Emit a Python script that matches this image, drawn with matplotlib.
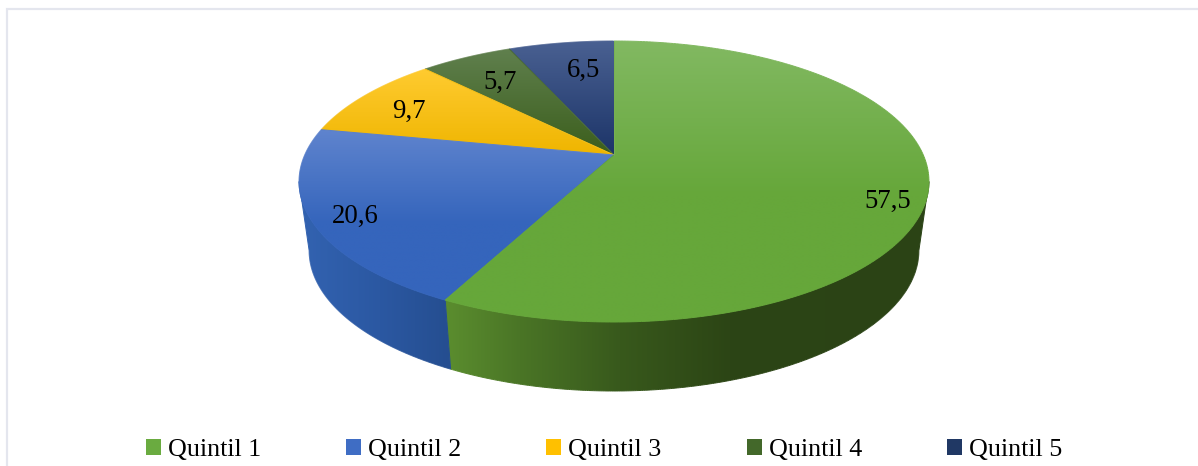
import numpy as np
import matplotlib
matplotlib.use("Agg")
import matplotlib.pyplot as plt
from matplotlib.patches import Patch, Polygon
from matplotlib.collections import LineCollection
from matplotlib.colors import to_rgb

categorias = ["Quintil 1", "Quintil 2", "Quintil 3", "Quintil 4", "Quintil 5"]
valores = [57.5, 20.6, 9.7, 5.7, 6.5]
rotulos = ["57,5", "20,6", "9,7", "5,7", "6,5"]

# cores do topo (inicio e fim do degrade vertical) e da legenda
cor_topo_a = ["#82B962", "#5F84CE", "#FFCB30", "#60804E", "#4A6192"]
cor_topo_b = ["#66A73A", "#3565BC", "#EFB500", "#3B5E1C", "#1C3468"]
cor_legenda = ["#6AAB40", "#3F6DC4", "#FFC000", "#43682A", "#203864"]

# posicao dos rotulos em pixels
rotulo_x = [888, 355, 409, 500, 584]
rotulo_y = [201, 216, 111, 82, 70]

# degrade da lateral, por x em pixels
parede_x = [[450, 520, 620, 730, 920], [305, 380, 450]]
parede_cor = [["#5A8C2E", "#4A7526", "#38591C", "#2C4515", "#2B4316"],
              ["#3262B0", "#2B58A2", "#254E90"]]

FONTE = "Liberation Serif"
CX, CY = 614, 155
A, B, C = 309.3, -106.27, 0.1886   # perspectiva do disco
ESCALA_BASE, ALTURA = 0.968, 69


def projetar(ang):
    # ang em radianos, sentido horario a partir do topo
    x_d, y_d = np.sin(ang), np.cos(ang)
    w = 1 + C * y_d
    return CX + A * x_d / w, (B * y_d + CY) / w


def base(x, y):
    return CX + ESCALA_BASE * (x - CX), y + ALTURA


def degrade_cor(x, xs, cores):
    rgb = np.array([to_rgb(c) for c in cores])
    return np.column_stack([np.interp(x, xs, rgb[:, i]) for i in range(3)])


def contorno(pts, cores, z):
    # borda com a cor do proprio degrade, so para suavizar o recorte
    fechado = np.vstack([pts, pts[0]])
    segs = np.stack([fechado[:-1], fechado[1:]], axis=1)
    ax.add_collection(LineCollection(segs, colors=cores(segs.mean(axis=1)), linewidths=0.7, zorder=z))


fig = plt.figure(figsize=(11.98, 4.66), dpi=100)
ax = fig.add_axes([0, 0, 1, 1])
ax.set_xlim(0, 1198)
ax.set_ylim(466, 0)
ax.axis("off")

# moldura clara (so esquerda e topo aparecem)
ax.plot([6.5, 6.5, 1198], [466, 8.5, 8.5], color="#E4E6EE", lw=1.6, solid_joinstyle="miter")

limites = np.radians(np.cumsum([0] + valores) * 3.6)
tangente = np.arccos(-C)   # ponto mais largo do disco, a lateral so aparece daqui para baixo

# lateral
for i in range(2):
    angs = np.linspace(max(limites[i], tangente), min(limites[i + 1], 2 * np.pi - tangente), 300)
    x, y = projetar(angs)
    xb, yb = base(x, y)
    pts = np.column_stack([np.r_[x, xb[::-1]], np.r_[y, yb[::-1]]])
    colunas = np.linspace(pts[:, 0].min(), pts[:, 0].max(), 400)
    img = degrade_cor(colunas, parede_x[i], parede_cor[i])[None, :, :]
    poli = Polygon(pts, closed=True, facecolor="none", edgecolor="none", zorder=1)
    ax.add_patch(poli)
    im = ax.imshow(img, extent=[colunas[0], colunas[-1], pts[:, 1].max(), pts[:, 1].min()],
                   aspect="auto", zorder=1, interpolation="bilinear")
    im.set_clip_path(poli)
    contorno(pts, lambda p, i=i: degrade_cor(p[:, 0], parede_x[i], parede_cor[i]), 1)

# topo de cada fatia, degrade recortado no poligono
for i in range(len(valores) - 1, -1, -1):
    angs = np.linspace(limites[i], limites[i + 1], 300)
    x, y = projetar(angs)
    pts = np.column_stack([np.r_[CX, x], np.r_[CY, y]])
    ymin, ymax = pts[:, 1].min(), pts[:, 1].max()
    # nas fatias grandes o degrade acaba antes da borda de baixo
    ymax_g = ymin + (ymax - ymin) * 0.55 if i < 2 else ymax
    xs_g = [ymin, ymax_g]
    cores_g = [cor_topo_a[i], cor_topo_b[i]]
    linhas = np.linspace(ymin, ymax, 256)
    img = degrade_cor(linhas, xs_g, cores_g)[:, None, :]
    z = 2 + 2 * (len(valores) - i)
    poli = Polygon(pts, closed=True, facecolor="none", edgecolor="none", zorder=z)
    ax.add_patch(poli)
    im = ax.imshow(img, extent=[pts[:, 0].min(), pts[:, 0].max(), ymax, ymin],
                   aspect="auto", zorder=z, interpolation="bilinear")
    im.set_clip_path(poli)
    contorno(pts, lambda p, g=xs_g, c=cores_g: degrade_cor(p[:, 1], g, c), z + 1)

ax.set_xlim(0, 1198)
ax.set_ylim(466, 0)

for i in range(len(rotulos)):
    ax.text(rotulo_x[i], rotulo_y[i], rotulos[i], family=FONTE, fontsize=19.3,
            color="black", ha="center", va="center", zorder=20)

handles = [Patch(facecolor=c, edgecolor="none") for c in cor_legenda]
leg = ax.legend(handles, categorias, ncol=5, frameon=False, loc="lower left",
                bbox_to_anchor=(146 / 1198, 5 / 466), borderpad=0, borderaxespad=0,
                handlelength=0.58, handleheight=0.55, handletextpad=0.27, columnspacing=3.27,
                prop={"family": FONTE, "size": 18.7})

plt.savefig("out.png", dpi=100, facecolor="white")
plt.close()
